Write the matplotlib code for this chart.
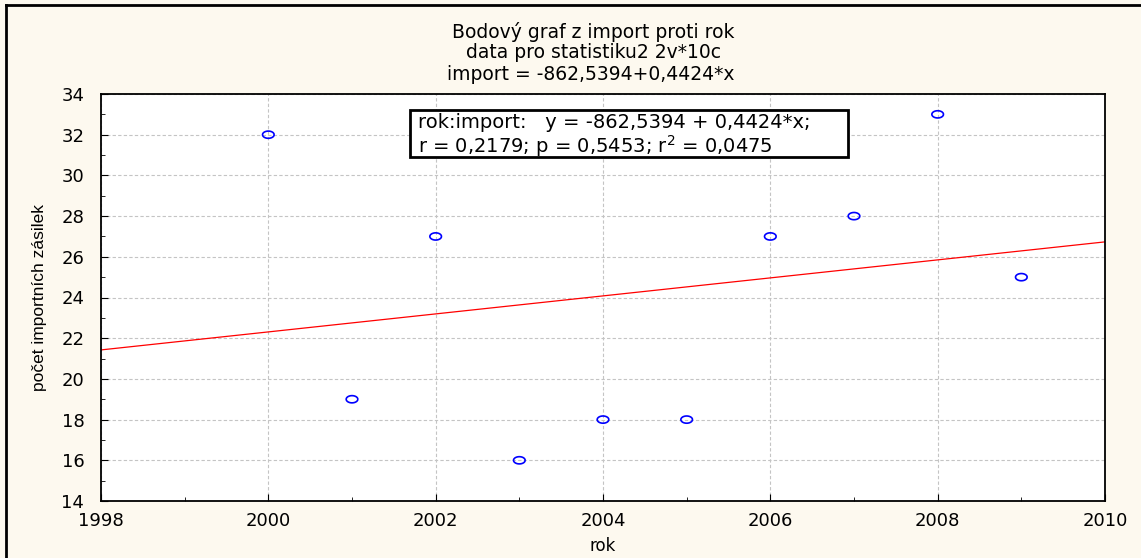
import matplotlib
matplotlib.use("Agg")
import matplotlib.pyplot as plt
from matplotlib.lines import Line2D
from matplotlib.patches import Rectangle
from matplotlib.ticker import MultipleLocator
import numpy as np

plt.rcParams['font.family'] = ['DejaVu Sans']

# data
rok = [2000, 2001, 2002, 2003, 2004, 2005, 2006, 2007, 2008, 2009]
pocet = [32, 19, 27, 16, 18, 18, 27, 28, 33, 25]

slope, intercept = np.polyfit(rok, pocet, 1)
r = np.corrcoef(rok, pocet)[0, 1]

W, H = 1141, 558
fig = plt.figure(figsize=(W / 100, H / 100), dpi=100, facecolor='#fdf9ef')
ax = fig.add_axes([101 / W, 1 - 501 / H, 1004 / W, 407 / H])
ax.set_facecolor('white')

# frame lines of the window (left and top)
fig.add_artist(Line2D([6 / W, 6 / W], [0, 1 - 5 / H], color='black', lw=2))
fig.add_artist(Line2D([6 / W, 1], [1 - 5 / H, 1 - 5 / H], color='black', lw=2))

# slightly flattened open circles, as in the reference
t = np.linspace(0, 2 * np.pi, 60)
ellipse = np.column_stack([np.cos(t), 0.62 * np.sin(t)])
ax.scatter(rok, pocet, s=70, marker=ellipse, facecolors='none', edgecolors='#0000ff',
           linewidths=1.2, zorder=3)
xs = np.array([1998, 2010])
ax.plot(xs, intercept + slope * xs, color='#ff0000', lw=0.9, zorder=2)

ax.set_xlim(1998, 2010)
ax.set_ylim(14, 34)
ax.xaxis.set_major_locator(MultipleLocator(2))
ax.xaxis.set_minor_locator(MultipleLocator(1))
ax.yaxis.set_major_locator(MultipleLocator(2))
ax.yaxis.set_minor_locator(MultipleLocator(1))
ax.tick_params(which='both', direction='in', labelsize=13)
ax.tick_params(which='major', length=5)
ax.tick_params(which='minor', length=3)
ax.tick_params(axis='x', pad=8)
ax.tick_params(axis='y', pad=12)
ax.grid(which='major', color='#c4c4c4', lw=0.8, ls=(0, (3, 2)))
ax.set_axisbelow(True)
for sp in ax.spines.values():
    sp.set_linewidth(1.3)

ax.set_xlabel('rok', fontsize=12, labelpad=5)
ax.set_ylabel('počet importních zásilek', fontsize=12.5, labelpad=10,
              family=['Liberation Sans Narrow', 'Liberation Sans', 'DejaVu Sans'])

fig.text(593 / W, 1 - 32 / H, 'Bodový graf z import proti rok', ha='center', va='center', fontsize=13.5)
fig.text(593 / W, 1 - 53 / H, 'data pro statistiku2 2v*10c', ha='center', va='center', fontsize=13.5)
fig.text(591 / W, 1 - 74 / H, 'import = -862,5394+0,4424*x', ha='center', va='center', fontsize=13.5)

# statistics box; the first line runs to the right edge as in the reference
fig.add_artist(Rectangle((410 / W, 1 - 157 / H), 438 / W, 47 / H, facecolor='white',
                         edgecolor='black', lw=2, zorder=5))
line1 = f'rok:import:   y = {intercept:.4f} + {slope:.4f}*x;'.replace('.', ',')
line2 = f'r = {r:.4f}; p = 0,5453; r$^2$ = {r**2:.4f}'.replace('.', ',')
fig.text(418 / W, 1 - 123 / H, line1, ha='left', va='center', fontsize=14, zorder=6)
fig.text(418 / W, 1 - 146 / H, line2, ha='left', va='center', fontsize=14, zorder=6)

fig.savefig('out.png', dpi=100, facecolor=fig.get_facecolor())
